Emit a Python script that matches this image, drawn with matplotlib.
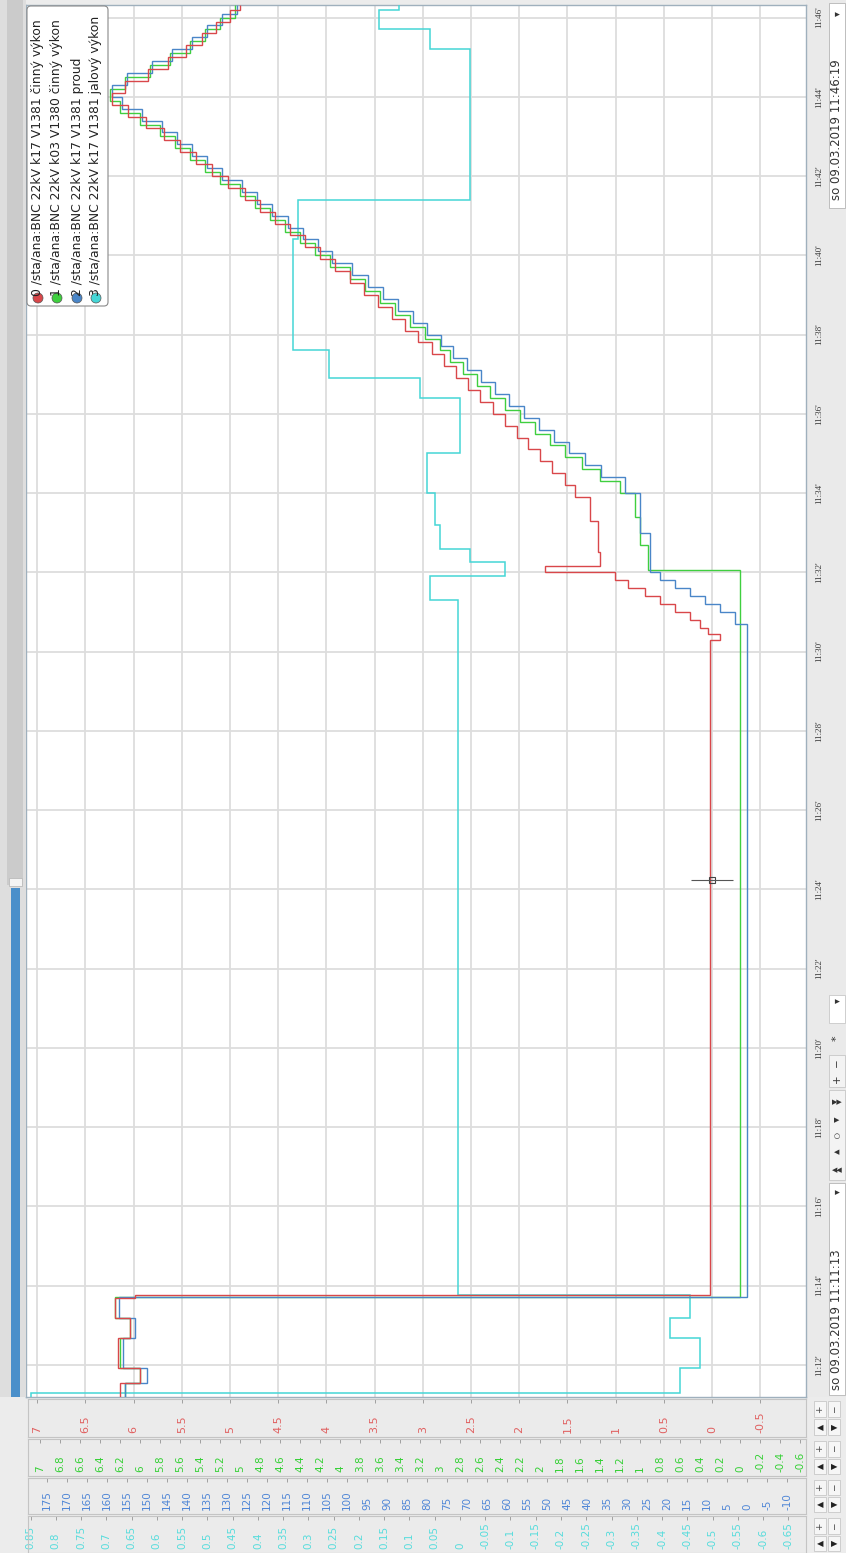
import numpy as np
import matplotlib
matplotlib.use("Agg")
import matplotlib.pyplot as plt
from matplotlib.patches import Rectangle, FancyBboxPatch, Circle
from matplotlib.ticker import FixedLocator, FuncFormatter
from matplotlib.transforms import Affine2D

# ---------------- data (time = minutes after 11:00, 09.03.2019) ----------------
T_START = 11 + 11 / 60 + 13 / 3600
T_END = 46 + 19 / 60

# series 0 - red - k17 V1381 cinny vykon (MW)
red_t = [T_START, 11.55, 11.93, 12.68, 13.18, 13.68, 13.76, 30.30, 30.45, 30.60, 30.80, 31.00, 31.20, 31.40,
         31.60, 31.80, 32.00, 32.15, 32.50, 33.30, 33.90, 34.20, 34.50, 34.80, 35.10, 35.40, 35.70, 36.00,
         36.30, 36.60, 36.90, 37.20, 37.50, 37.80, 38.10, 38.40, 38.70, 39.00, 39.30, 39.60, 39.90, 40.20,
         40.50, 40.80, 41.10, 41.40, 41.70, 42.00, 42.30, 42.60, 42.90, 43.20, 43.50, 43.80, 44.10, 44.40,
         44.70, 45.00, 45.30, 45.60, 45.90, 46.20]
red_v = [6.14, 5.93, 6.16, 6.04, 6.19, 5.99, 0.02, -0.08, 0.04, 0.12, 0.23, 0.38, 0.54, 0.70,
         0.87, 1.01, 1.73, 1.16, 1.18, 1.27, 1.42, 1.52, 1.66, 1.78, 1.91, 2.02, 2.15, 2.27,
         2.41, 2.53, 2.66, 2.78, 2.90, 3.05, 3.18, 3.32, 3.46, 3.61, 3.76, 3.91, 4.07, 4.22,
         4.38, 4.53, 4.69, 4.84, 5.02, 5.19, 5.35, 5.52, 5.68, 5.87, 6.06, 6.22, 6.09, 5.85,
         5.64, 5.46, 5.29, 5.15, 5.00, 4.90]

# series 1 - green - k03 V1380 cinny vykon (MW)
green_t = [T_START, 11.55, 11.93, 12.68, 13.18, 13.70, 32.05, 32.70, 33.40, 34.00, 34.30, 34.60, 34.90,
           35.20, 35.50, 35.80, 36.10, 36.40, 36.70, 37.00, 37.30, 37.60, 37.90, 38.20, 38.50, 38.80,
           39.10, 39.40, 39.70, 40.00, 40.30, 40.60, 40.90, 41.20, 41.50, 41.80, 42.10, 42.40, 42.70,
           43.00, 43.30, 43.60, 43.90, 44.20, 44.50, 44.80, 45.10, 45.40, 45.70, 46.00]
green_v = [6.15, 6.00, 6.20, 6.10, 6.25, 0.00, 0.92, 1.00, 1.05, 1.20, 1.40, 1.58, 1.75,
           1.90, 2.05, 2.20, 2.35, 2.50, 2.63, 2.77, 2.90, 3.00, 3.15, 3.30, 3.45, 3.60,
           3.75, 3.90, 4.10, 4.25, 4.40, 4.55, 4.70, 4.85, 5.00, 5.20, 5.35, 5.50, 5.65,
           5.80, 6.00, 6.20, 6.30, 6.15, 5.90, 5.70, 5.50, 5.35, 5.20, 5.05]

# series 2 - blue - k17 V1381 proud (A)
blue_t = [T_START, 11.55, 11.93, 12.68, 13.18, 13.72, 30.70, 31.00, 31.20, 31.40, 31.60, 31.80, 32.00,
          33.00, 34.00, 34.40, 34.70, 35.00, 35.30, 35.60, 35.90, 36.20, 36.50, 36.80, 37.10, 37.40,
          37.70, 38.00, 38.30, 38.60, 38.90, 39.20, 39.50, 39.80, 40.10, 40.40, 40.70, 41.00, 41.30,
          41.60, 41.90, 42.20, 42.50, 42.80, 43.10, 43.40, 43.70, 44.00, 44.30, 44.60, 44.90, 45.20,
          45.50, 45.80, 46.10]
blue_v = [155.5, 150.0, 156.0, 153.0, 157.0, 0.0, 3.0, 6.8, 10.5, 14.3, 18.0, 21.8, 24.3,
          26.8, 30.5, 36.5, 40.5, 44.5, 48.3, 52.0, 55.8, 59.5, 63.0, 66.5, 70.0, 73.5,
          76.5, 80.0, 83.5, 87.3, 91.0, 94.8, 98.8, 103.8, 107.3, 111.0, 114.8, 118.8, 122.5,
          126.3, 131.3, 135.0, 138.8, 142.5, 146.3, 151.3, 156.3, 158.8, 155.0, 148.8, 143.8, 138.8,
          135.0, 131.3, 127.5]

# series 3 - cyan - k17 V1381 jalovy vykon (MVAr)
cyan_t = [T_START, 11.30, 11.55, 11.93, 12.68, 13.18, 13.76, 31.30, 31.90, 32.25, 32.60, 33.20, 34.00, 35.00,
          36.40, 36.90, 37.60, 40.40, 41.40, 45.20, 45.70, 46.20]
cyan_v = [0.85, -0.436, -0.436, -0.475, -0.416, -0.455, 0.004, 0.06, -0.09, -0.02, 0.04, 0.05, 0.065, 0.00,
          0.08, 0.26, 0.33, 0.32, -0.02, 0.06, 0.16, 0.12]

# axis scales (value at left edge, value at right edge)
red_lim = (7.116, -0.975)
green_lim = (7.14, -0.66)
blue_lim = (180.25, -14.75)
cyan_lim = (0.859, -0.685)

red_ticks = [7, 6.5, 6, 5.5, 5, 4.5, 4, 3.5, 3, 2.5, 2, 1.5, 1, 0.5, 0, -0.5, -1]
green_ticks = [7, 6.8, 6.6, 6.4, 6.2, 6, 5.8, 5.6, 5.4, 5.2, 5, 4.8, 4.6, 4.4, 4.2, 4, 3.8, 3.6, 3.4, 3.2,
               3, 2.8, 2.6, 2.4, 2.2, 2, 1.8, 1.6, 1.4, 1.2, 1, 0.8, 0.6, 0.4, 0.2, 0, -0.2, -0.4, -0.6]
blue_ticks = [180, 175, 170, 165, 160, 155, 150, 145, 140, 135, 130, 125, 120, 115, 110, 105, 100, 95, 90,
              85, 80, 75, 70, 65, 60, 55, 50, 45, 40, 35, 30, 25, 20, 15, 10, 5, 0, -5, -10, -15]
cyan_ticks = [0.85, 0.8, 0.75, 0.7, 0.65, 0.6, 0.55, 0.5, 0.45, 0.4, 0.35, 0.3, 0.25, 0.2, 0.15, 0.1, 0.05,
              0, -0.05, -0.1, -0.15, -0.2, -0.25, -0.3, -0.35, -0.4, -0.45, -0.5, -0.55, -0.6, -0.65, -0.7]
time_ticks = [12, 14, 16, 18, 20, 22, 24, 26, 28, 30, 32, 34, 36, 38, 40, 42, 44, 46]

legend_labels = ["0 /sta/ana:BNC 22kV k17 V1381 činný výkon",
                 "1 /sta/ana:BNC 22kV k03 V1380 činný výkon",
                 "2 /sta/ana:BNC 22kV k17 V1381 proud",
                 "3 /sta/ana:BNC 22kV k17 V1381 jalový výkon"]
date_end = "so 09.03.2019 11:46:19"
date_start = "so 09.03.2019 11:11:13"
cursor_t, cursor_red = 24.24, 0.0

# ---------------- styling ----------------
RED, GREEN, BLUE, CYAN = "#d9474a", "#3fcf3f", "#4a86c8", "#45d6d6"
LAB_RED, LAB_GREEN, LAB_BLUE, LAB_CYAN = "#e06060", "#35d035", "#4f86d6", "#55dcdc"
plt.rcParams["font.family"] = ["DejaVu Sans", "Noto Sans"]

W, H = 846, 1553
fig = plt.figure(figsize=(W / 100, H / 100), dpi=100)
fig.patch.set_facecolor("#ececec")
IMG = Affine2D().scale(1, -1).translate(0, H)  # pixel coords, top-left origin (display space at dpi 100)


def rect(l, t, r, b):
    return [l / W, 1 - b / H, (r - l) / W, (b - t) / H]


PL, PT, PR, PB = 26, 5, 806, 1397

# background strips
fig.add_artist(Rectangle((0, 0), 26, PB, transform=IMG, fc="#dedede", ec="none"))
fig.add_artist(Rectangle((7, 0), 16, 885, transform=IMG, fc="#cbcbcb", ec="none"))
fig.add_artist(Rectangle((11, 888), 9, PB - 888, transform=IMG, fc="#4a8fca", ec="none"))
fig.add_artist(Rectangle((9, 878), 13, 8, transform=IMG, fc="#f4f4f4", ec="#bbbbbb", lw=0.6))

# main axes (grid, time ticks)
ax = fig.add_axes(rect(PL, PT, PR, PB))
ax.set_facecolor("white")
ax.set_xlim(*red_lim)
ax.set_ylim(T_START, T_END)
ax.xaxis.set_major_locator(FixedLocator([v for v in red_ticks if v > -1]))
ax.yaxis.set_major_locator(FixedLocator(time_ticks))
ax.grid(True, color="#dddddd", lw=1.3)
ax.tick_params(axis="x", bottom=False, labelbottom=False)
ax.yaxis.tick_right()
ax.tick_params(axis="y", right=False, left=False, labelright=True, labelleft=False, pad=3,
               labelsize=6.5, labelcolor="#3c3c3c", labelrotation=90)
ax.yaxis.set_major_formatter(FuncFormatter(lambda m, p: f"11:{int(round(m)):02d}'"))
for lab in ax.get_yticklabels():
    lab.set_family("Liberation Serif")
    lab.set_va("center")
for s in ax.spines.values():
    s.set_color("#9fb0bd")
    s.set_linewidth(1.0)


def overlay(lim):
    a = fig.add_axes(rect(PL, PT, PR, PB))
    a.set_xlim(*lim)
    a.set_ylim(T_START, T_END)
    a.patch.set_visible(False)
    a.axis("off")
    return a


ax_c = overlay(cyan_lim)
ax_c.stairs(cyan_v, cyan_t + [T_END], orientation="horizontal", baseline=None, color=CYAN, lw=1.1)
ax_g = overlay(green_lim)
ax_g.stairs(green_v, green_t + [T_END], orientation="horizontal", baseline=None, color=GREEN, lw=1.0)
ax_b = overlay(blue_lim)
ax_b.stairs(blue_v, blue_t + [T_END], orientation="horizontal", baseline=None, color=BLUE, lw=1.0)
ax_r = overlay(red_lim)
ax_r.stairs(red_v, red_t + [T_END], orientation="horizontal", baseline=None, color=RED, lw=1.0)

# cursor crosshair
ax_r.plot([cursor_red], [cursor_t], marker="s", ms=5, mfc="none", mec="#444444", mew=0.8)
ax_r.plot([cursor_red], [cursor_t], marker="_", ms=30, mec="#555555", mew=0.8)

# legend
fig.add_artist(FancyBboxPatch((27, 6), 81, 300, boxstyle="round,pad=0,rounding_size=4", transform=IMG,
                              fc="white", ec="#8a8a8a", lw=0.8, zorder=5))
leg_x = [38, 57, 77, 96]
for lab, col, lx in zip(legend_labels, [RED, GREEN, BLUE, CYAN], leg_x):
    fig.add_artist(Circle((lx, 298), 5, transform=IMG, fc=col, ec="#555555", lw=0.5, zorder=6))
    fig.text(lx, 296, lab, transform=IMG, rotation=90, ha="center", va="bottom", fontsize=8.9,
             color="#222222", zorder=7)

# right strip with time navigator
fig.add_artist(Rectangle((806, 0), 40, PB, transform=IMG, fc="#eaeaea", ec="none", zorder=0))
fig.add_artist(Rectangle((829, 3), 16, 205, transform=IMG, fc="white", ec="#b5b5b5", lw=0.6))
fig.text(837, 200, date_end, transform=IMG, rotation=90, ha="center", va="bottom", fontsize=8.5, color="#333333")
fig.text(837, 14, "▾", transform=IMG, rotation=90, ha="center", va="center", fontsize=7, color="#333333")
fig.add_artist(Rectangle((829, 1183), 16, 212, transform=IMG, fc="white", ec="#b5b5b5", lw=0.6))
fig.text(837, 1390, date_start, transform=IMG, rotation=90, ha="center", va="bottom", fontsize=8.5, color="#333333")
fig.text(837, 1192, "▾", transform=IMG, rotation=90, ha="center", va="center", fontsize=7, color="#333333")
nav = [(1170, "◀◀"), (1152, "◀"), (1136, "○"), (1120, "▶"), (1102, "▶▶")]
fig.add_artist(Rectangle((829, 1090), 16, 90, transform=IMG, fc="#f3f3f3", ec="#c0c0c0", lw=0.5))
for yy, sym in nav:
    fig.text(837, yy, sym, transform=IMG, ha="center", va="center", fontsize=5, color="#333333")
fig.add_artist(Rectangle((829, 1055), 16, 32, transform=IMG, fc="#f3f3f3", ec="#c0c0c0", lw=0.5))
fig.text(837, 1079, "+", transform=IMG, rotation=90, ha="center", va="center", fontsize=7.5, color="#333333")
fig.text(837, 1063, "−", transform=IMG, rotation=90, ha="center", va="center", fontsize=7.5, color="#333333")
fig.text(837, 1038, "*", transform=IMG, rotation=90, ha="center", va="center", fontsize=8, color="#333333")
fig.add_artist(Rectangle((829, 995), 16, 28, transform=IMG, fc="white", ec="#c0c0c0", lw=0.5))
fig.text(837, 1001, "▾", transform=IMG, rotation=90, ha="center", va="center", fontsize=7, color="#333333")

# value-axis panels
rows = [(1399, 1437, red_lim, red_ticks, LAB_RED, 8.0),
        (1439, 1476, green_lim, green_ticks, LAB_GREEN, 7.5),
        (1478, 1514, blue_lim, blue_ticks, LAB_BLUE, 7.5),
        (1516, 1553, cyan_lim, cyan_ticks, LAB_CYAN, 7.5)]
for top, bot, lim, ticks, col, fs in rows:
    pa = fig.add_axes(rect(PL + 2, top, PR, bot))
    pa.set_xlim(lim[0] + (lim[1] - lim[0]) * 2 / (PR - PL), lim[1])
    pa.set_ylim(0, 1)
    pa.set_facecolor("#ebebeb")
    pa.xaxis.set_major_locator(FixedLocator(ticks))
    pa.xaxis.set_major_formatter(FuncFormatter(lambda v, p: f"{v:g}"))
    pa.set_yticks([])
    pa.tick_params(axis="x", top=True, bottom=False, labelbottom=True, labeltop=False, direction="in",
                   length=3, width=0.7, color="#a0a0a0", pad=-3, labelsize=fs, labelcolor=col, labelrotation=90)
    for lab in pa.get_xticklabels():
        lab.set_va("bottom")
    for s in pa.spines.values():
        s.set_color("#c4c4c4")
        s.set_linewidth(0.8)
    # +/- and arrow buttons
    mid = (top + bot) / 2
    for bx, sym in [(820, "+"), (834, "−")]:
        fig.add_artist(Rectangle((bx - 6, top + 2), 12, (bot - top) / 2 - 3, transform=IMG, fc="#f6f6f6",
                                 ec="#c0c0c0", lw=0.5))
        fig.text(bx, top + (bot - top) / 4 + 0.5, sym, transform=IMG, rotation=90, ha="center", va="center",
                 fontsize=6.5, color="#444444")
    for bx, sym in [(820, "◀"), (834, "▶")]:
        fig.add_artist(Rectangle((bx - 6, mid + 1), 12, (bot - top) / 2 - 3, transform=IMG, fc="#f6f6f6",
                                 ec="#c0c0c0", lw=0.5))
        fig.text(bx, mid + (bot - top) / 4, sym, transform=IMG, ha="center", va="center",
                 fontsize=6, color="#222222")

fig.savefig("out.png", dpi=100, facecolor=fig.get_facecolor())
